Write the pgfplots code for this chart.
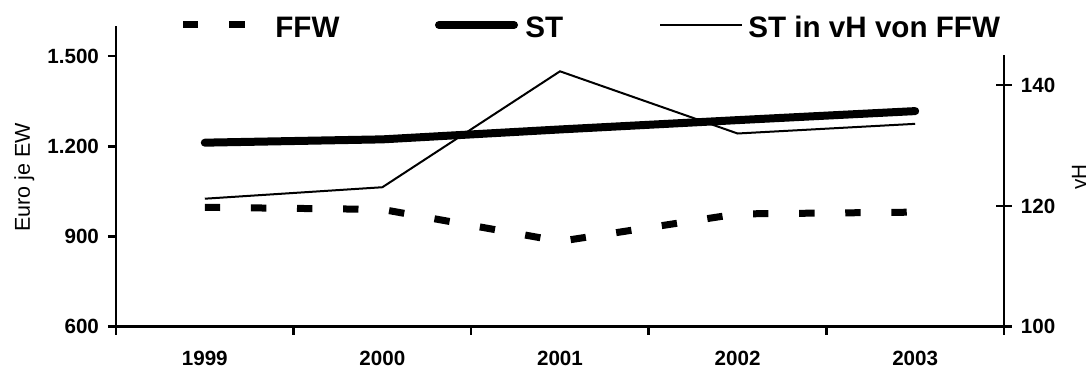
\documentclass[border=0pt]{standalone}
\usepackage{pgfplots}
\pgfplotsset{compat=1.18}
\usepackage{fontspec}
\setmainfont{Liberation Sans}
\definecolor{thin}{HTML}{333333}
\begin{document}
\begin{tikzpicture}
\path[use as bounding box] (0,0) rectangle (544pt,185pt);
\begin{axis}[
  at={(58pt,21.65pt)}, anchor=south west,
  scale only axis, width=444pt, height=150.35pt,
  xmin=-0.5, xmax=4.5, ymin=600, ymax=1600,
  axis x line*=bottom, axis y line*=left,
  axis line style={line width=1.3pt, -},
  every tick/.style={line width=1.3pt, black},
  tick align=outside,
  xtick={0,1,2,3,4},
  xticklabels={1999,2000,2001,2002,2003},
  major x tick style={draw=none},
  minor xtick={-0.5,0.5,1.5,2.5,3.5,4.5},
  minor tick length=4pt,
  major tick length=4pt,
  ytick={600,900,1200,1500},
  yticklabels={600,900,1.200,1.500},
  tick label style={font=\fontsize{10.3pt}{12pt}\selectfont\bfseries},
  xticklabel style={yshift=-4.5pt},
  yticklabel style={xshift=-1pt},
  clip=false,
]
\addplot[black, line width=3.5pt, dash pattern=on 7.7pt off 15.35pt, line cap=butt] coordinates {(0,997) (1,990) (2,884) (3,975) (4,981)};
\addplot[black, line width=4pt, line cap=round, line join=round] coordinates {(0,1212) (1,1223) (2,1256) (3,1287) (4,1317)};
\end{axis}
\begin{axis}[
  at={(58pt,21.65pt)}, anchor=south west,
  scale only axis, width=444pt, height=135.85pt,
  xmin=-0.5, xmax=4.5, ymin=100, ymax=145,
  axis x line=none, axis y line*=right,
  axis line style={line width=1.3pt, -},
  every tick/.style={line width=1.3pt, black},
  tick align=center, major tick length=7.8pt,
  ytick={100,120,140},
  yticklabels={100,120,140},
  tick label style={font=\fontsize{10.3pt}{12pt}\selectfont\bfseries},
  yticklabel style={xshift=1pt},
  clip=false,
]
\addplot[thin, line width=1pt] coordinates {(0,121.2) (1,123.1) (2,142.3) (3,132.0) (4,133.6)};
\end{axis}
% axis titles
\node[rotate=90, anchor=base, inner sep=0, font=\fontsize{10.75pt}{12pt}\selectfont] at (15pt,96.3pt) {Euro je EW};
\node[rotate=90, anchor=base, inner sep=0, font=\fontsize{10.3pt}{12pt}\selectfont] at (543pt,96.5pt) {vH};
% legend
\draw[black, line width=3.5pt, dash pattern=on 7.7pt off 15.35pt, line cap=butt] (91.5pt,172.5pt) -- (122.3pt,172.5pt);
\node[anchor=base west, inner sep=0, font=\fontsize{14.8pt}{16pt}\selectfont\bfseries] at (137.5pt,166pt) {FFW};
\draw[black, line width=4pt, line cap=round] (219.5pt,172.5pt) -- (257pt,172.5pt);
\node[anchor=base west, inner sep=0, font=\fontsize{14.8pt}{16pt}\selectfont\bfseries] at (262.5pt,166pt) {ST};
\draw[thin, line width=1pt] (330pt,172.5pt) -- (371pt,172.5pt);
\node[anchor=base west, inner sep=0, font=\fontsize{14.8pt}{16pt}\selectfont\bfseries] at (374pt,166pt) {ST in vH von FFW};
\end{tikzpicture}
\end{document}
